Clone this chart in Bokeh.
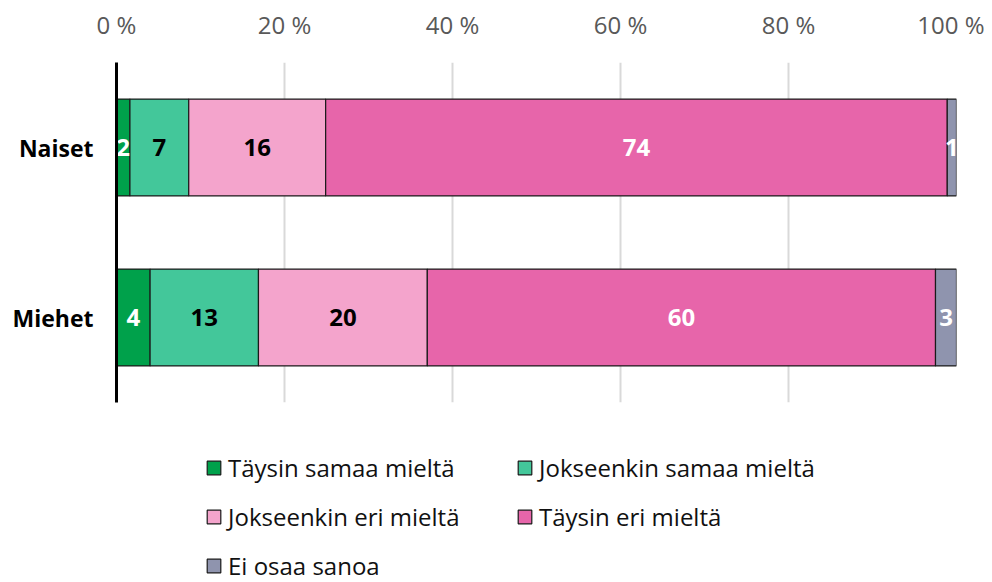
from bokeh.plotting import figure
from bokeh.layouts import column
from bokeh.models import ColumnDataSource, FactorRange, Range1d, FixedTicker, Legend, LegendItem
from bokeh.core.properties import value
from bokeh.embed import file_html
from bokeh.resources import INLINE

# ---- data ----
groups = ["Naiset", "Miehet"]
series = ["Täysin samaa mieltä", "Jokseenkin samaa mieltä",
          "Jokseenkin eri mieltä", "Täysin eri mieltä", "Ei osaa sanoa"]
naiset = [1.6, 7.0, 16.3, 74.0, 1.1]
miehet = [4.0, 12.9, 20.1, 60.5, 2.5]
naiset_labels = ["2", "7", "16", "74", "1"]
miehet_labels = ["4", "13", "20", "60", "3"]
x_ticks = [0, 20, 40, 60, 80, 100]
x_tick_labels = ["0 %", "20 %", "40 %", "60 %", "80 %", "100 %"]

colors = ["#00A14B", "#43C79A", "#F4A4CC", "#E765AA", "#8F94AE"]
label_colors = ["#FFFFFF", "#000000", "#000000", "#FFFFFF", "#FFFFFF"]
FONT = "Open Sans"
EDGE = "#1a1a1a"

keys = [f"s{i}" for i in range(len(series))]
data = {"group": groups}
for i, k in enumerate(keys):
    data[k] = [naiset[i], miehet[i]]
src = ColumnDataSource(data)

p = figure(width=984, height=408, output_backend="svg", toolbar_location=None,
           y_range=FactorRange(factors=["Miehet", "Naiset"], range_padding=0),
           x_range=Range1d(0, 100), x_axis_location="above",
           min_border_left=116, min_border_right=28, min_border_top=62,
           min_border_bottom=6)
p.outline_line_color = None

renderers = p.hbar_stack(keys, y="group", height=0.57, source=src,
                         fill_color=colors, line_color=EDGE, line_width=1.2)

# segment labels
lx, ly, lt, lc = [], [], [], []
for vals, labs, g in [(naiset, naiset_labels, "Naiset"), (miehet, miehet_labels, "Miehet")]:
    cum = 0
    for i, v in enumerate(vals):
        lx.append(cum + v / 2)
        ly.append(g)
        lt.append(labs[i])
        lc.append(label_colors[i])
        cum += v
lsrc = ColumnDataSource(dict(x=lx, y=ly, t=lt, c=lc))
p.text(x="x", y="y", text="t", source=lsrc, text_color="c",
       text_font=value(FONT), text_font_style="bold", text_font_size="24px",
       text_align="center", text_baseline="middle")

# axes
xa = p.xaxis[0]
xa.ticker = FixedTicker(ticks=x_ticks)
xa.major_label_overrides = {t: l for t, l in zip(x_ticks, x_tick_labels)}
xa.axis_line_color = None
xa.major_tick_line_color = None
xa.minor_tick_line_color = None
xa.major_tick_out = 0
xa.major_tick_in = 0
xa.major_label_text_font = FONT
xa.major_label_text_font_size = "24px"
xa.major_label_text_color = "#595959"
xa.major_label_standoff = 22

ya = p.yaxis[0]
ya.axis_line_color = "#000000"
ya.axis_line_width = 3
ya.major_tick_line_color = None
ya.minor_tick_line_color = None
ya.major_tick_out = 0
ya.major_tick_in = 0
ya.major_label_text_font = FONT
ya.major_label_text_font_style = "bold"
ya.major_label_text_font_size = "23px"
ya.major_label_text_color = "#000000"
ya.major_label_standoff = 23

p.xgrid.grid_line_color = "#d9d9d9"
p.xgrid.grid_line_width = 2
p.xgrid.ticker = FixedTicker(ticks=x_ticks)
p.ygrid.grid_line_color = None

# ---- legend panel (separate figure below, frames aligned) ----
p2 = figure(width=984, height=174, output_backend="svg", toolbar_location=None,
            x_range=Range1d(0, 1), y_range=Range1d(0, 1),
            x_axis_type=None, y_axis_type=None,
            min_border_left=116, min_border_right=28, min_border_top=0, min_border_bottom=0)
p2.outline_line_color = None
p2.grid.visible = False
offscreen = ColumnDataSource(dict(y=[-10], r=[1]))
leg_renderers = [p2.hbar(y="y", right="r", height=0.5, source=offscreen,
                         fill_color=c, line_color=EDGE, line_width=1.2) for c in colors]

legend = Legend(items=[LegendItem(label=s, renderers=[r]) for s, r in zip(series, leg_renderers)],
                orientation="horizontal", ncols=2,
                location=(89, 0), padding=0, margin=0, spacing=15,
                glyph_width=17, glyph_height=17, label_standoff=6,
                label_height=34, label_width=273,
                label_text_font=FONT, label_text_font_size="24px",
                label_text_color="#111111",
                border_line_color=None, background_fill_alpha=0)
p2.add_layout(legend, "center")

layout = column(p, p2, spacing=0)
open("out.html", "w").write(file_html(layout, INLINE))
